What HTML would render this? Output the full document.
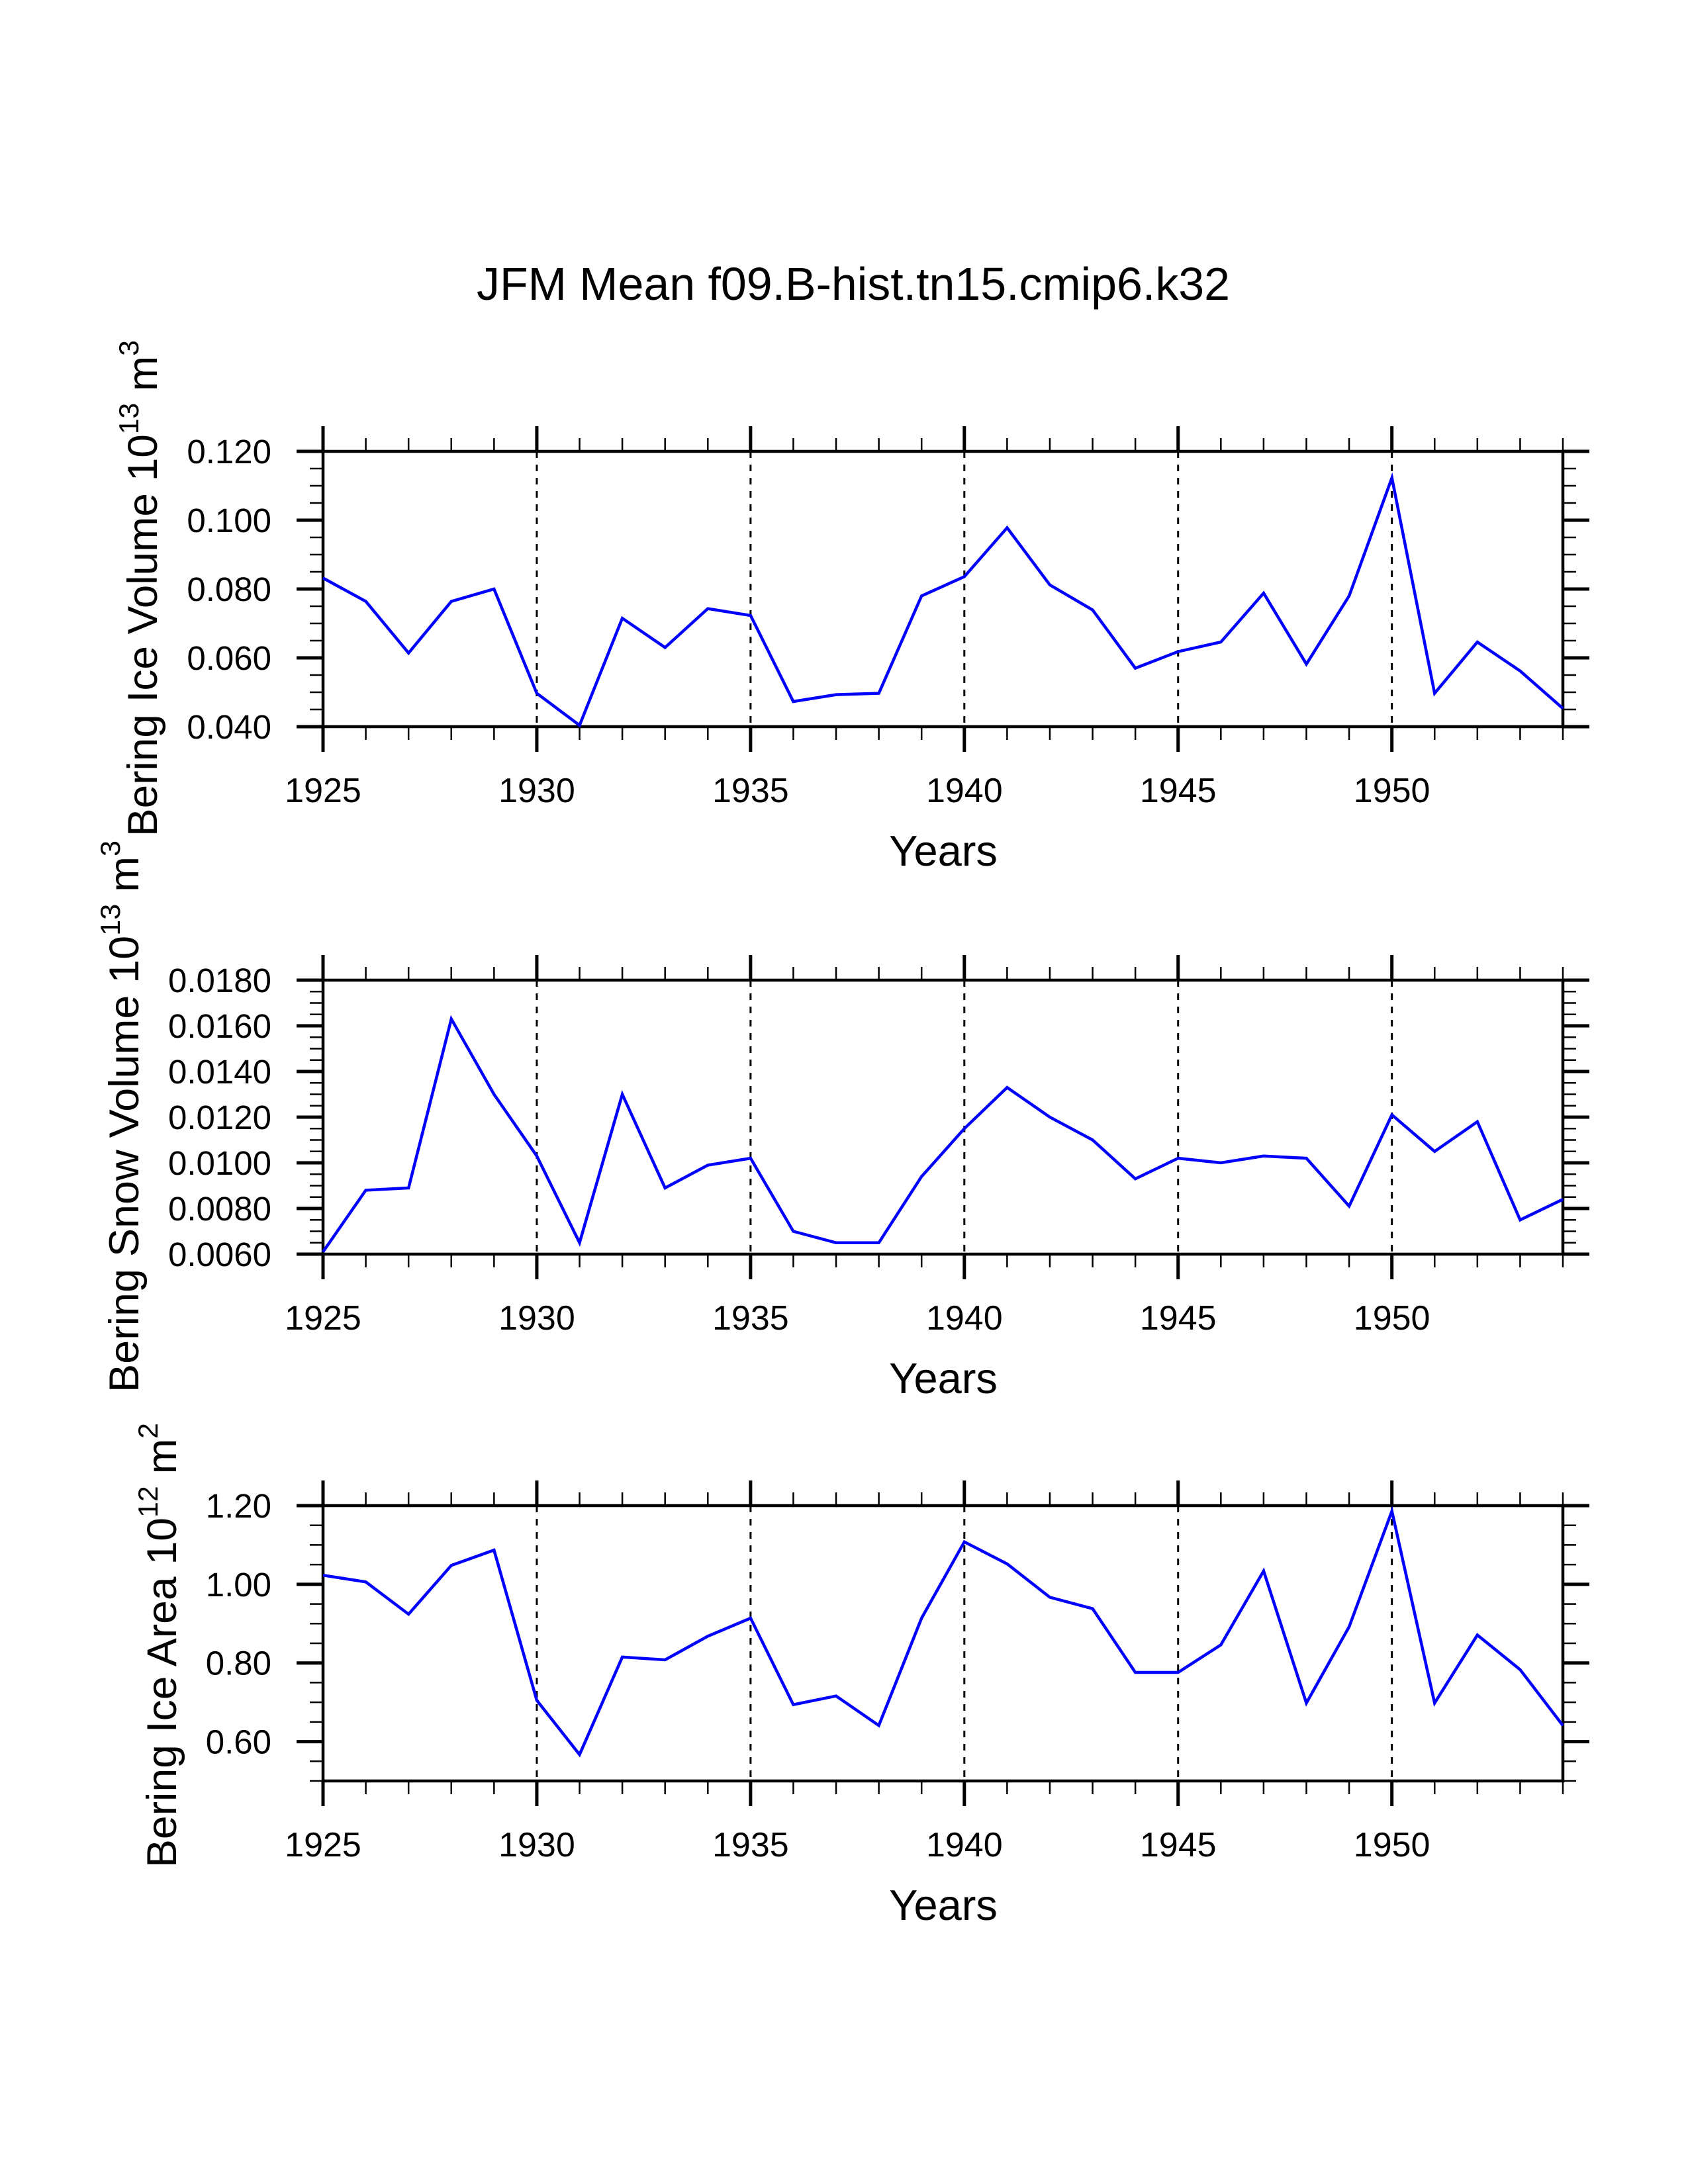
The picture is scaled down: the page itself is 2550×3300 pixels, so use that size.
<!DOCTYPE html>
<html><head><meta charset="utf-8"><style>
html,body{margin:0;padding:0;background:#fff;}
svg{display:block;}
text{font-family:"Liberation Sans",sans-serif;fill:#000;}
</style></head><body>
<svg id="chart" width="2550" height="3300" viewBox="0 0 2550 3300" xmlns="http://www.w3.org/2000/svg">
<rect width="2550" height="3300" fill="#fff"/>
<text x="1289" y="453" font-size="70" text-anchor="middle" textLength="1138" lengthAdjust="spacingAndGlyphs">JFM Mean f09.B-hist.tn15.cmip6.k32</text>
</svg>
<script>
const years = [1925,1926,1927,1928,1929,1930,1931,1932,1933,1934,1935,1936,1937,1938,1939,1940,1941,1942,1943,1944,1945,1946,1947,1948,1949,1950,1951,1952,1953,1954];
const xTickLabels = ["1925","1930","1935","1940","1945","1950"];
const iceVolume = [0.0832,0.0764,0.0614,0.0764,0.0800,0.0497,0.0404,0.0715,0.0630,0.0743,0.0723,0.0473,0.0493,0.0497,0.0780,0.0836,0.0978,0.0812,0.0739,0.0570,0.0618,0.0646,0.0788,0.0582,0.0780,0.1123,0.0497,0.0646,0.0562,0.0453];
const snowVolume = [0.0061,0.0088,0.0089,0.0163,0.0130,0.0103,0.0065,0.0130,0.0089,0.0099,0.0102,0.0070,0.0065,0.0065,0.0094,0.0115,0.0133,0.0120,0.0110,0.0093,0.0102,0.0100,0.0103,0.0102,0.0081,0.0121,0.0105,0.0118,0.0075,0.0084];
const iceArea = [1.023,1.006,0.924,1.048,1.087,0.705,0.567,0.815,0.808,0.868,0.914,0.694,0.716,0.641,0.914,1.108,1.052,0.967,0.938,0.776,0.776,0.846,1.034,0.698,0.892,1.186,0.698,0.871,0.783,0.641];
const iceVolTicks = ["0.040","0.060","0.080","0.100","0.120"];
const snowTicks = ["0.0060","0.0080","0.0100","0.0120","0.0140","0.0160","0.0180"];
const areaTicks = ["0.60","0.80","1.00","1.20"];

const NS = "http://www.w3.org/2000/svg";
const svg = document.getElementById('chart');
const X0 = 488, X1 = 2361;
const xScale = y => X0 + (y - 1925) / (1954 - 1925) * (X1 - X0);

function mk(tag, attrs, parent) {
  const e = document.createElementNS(NS, tag);
  for (const k in attrs) e.setAttribute(k, attrs[k]);
  (parent || svg).appendChild(e);
  return e;
}
function line(g, x1, y1, x2, y2, w, name, dash) {
  const l = mk('line', {x1, y1, x2, y2, stroke: '#000', 'stroke-width': w}, g);
  if (dash) l.setAttribute('stroke-dasharray', dash);
  
  
  return l;
}

function panel(cfg) {
  const g = mk('g', {});
  
  
  const T = cfg.top, B = cfg.bottom;
  const yScale = v => B - (v - cfg.min) / (cfg.max - cfg.min) * (B - T);
  xTickLabels.forEach(l => {
    const yr = +l;
    if (yr === 1925) return;
    line(g, xScale(yr), T, xScale(yr), B, 3, 'x-gridline-' + l, '10 10');
  });
  years.forEach(yr => {
    const x = xScale(yr);
    const major = (yr % 5 === 0);
    const len = major ? 38 : 20, w = major ? 5 : 2.5;
    line(g, x, T, x, T - len, w, 'top-tick');
    line(g, x, B, x, B + len, w, 'x-tick');
  });
  for (let v = cfg.min; v <= cfg.max + 1e-9; v += cfg.minor) {
    const y = yScale(v);
    line(g, X0, y, X0 - 20, y, 2.5, 'y-minor-tick');
    line(g, X1, y, X1 + 20, y, 2.5, 'right-minor-tick');
  }
  cfg.ticks.forEach(t => {
    const y = yScale(parseFloat(t));
    line(g, X0, y, X0 - 40, y, 5, 'y-tick');
    line(g, X1, y, X1 + 40, y, 5, 'right-tick');
    const tx = mk('text', {x: 410, y: y + 18, 'font-size': 51, 'text-anchor': 'end'}, g);
    
    
    tx.textContent = t;
  });
  const fr = mk('rect', {x: X0, y: T, width: X1 - X0, height: B - T, fill: 'none', stroke: '#000', 'stroke-width': 4.5}, g);
  
  
  xTickLabels.forEach(l => {
    const tx = mk('text', {x: xScale(+l), y: B + 114, 'font-size': 52, 'text-anchor': 'middle'}, g);
    
    
    tx.textContent = l;
  });
  const xt = mk('text', {x: 1425, y: B + 210, 'font-size': 65, 'text-anchor': 'middle'}, g);
  
  
  xt.textContent = 'Years';
  const yt = mk('text', {transform: `translate(${cfg.tx},${cfg.tc}) rotate(-90)`, x: 0, y: 0, 'font-size': 63, 'text-anchor': 'middle', textLength: cfg.tlen, lengthAdjust: 'spacingAndGlyphs'}, g);
  
  
  yt.innerHTML = cfg.title + ' 10<tspan dy="-28" font-size="42">' + cfg.exp + '</tspan><tspan dy="28"> m</tspan><tspan dy="-28" font-size="42">' + cfg.pw + '</tspan>';
  const pts = cfg.data.map((v, i) => xScale(years[i]).toFixed(1) + ',' + yScale(v).toFixed(1)).join(' ');
  const pl = mk('polyline', {points: pts, fill: 'none', stroke: '#0000ff', 'stroke-width': 4.5, 'stroke-linejoin': 'miter'}, g);
  
  
}

panel({name: 'ice-volume-panel', top: 682, bottom: 1098, min: 0.040, max: 0.120, minor: 0.005, ticks: iceVolTicks, data: iceVolume, title: 'Bering Ice Volume', exp: '13', pw: '3', tx: 237, tc: 889, tlen: 750});
panel({name: 'snow-volume-panel', top: 1481, bottom: 1895, min: 0.006, max: 0.018, minor: 0.0005, ticks: snowTicks, data: snowVolume, title: 'Bering Snow Volume', exp: '13', pw: '3', tx: 209, tc: 1687, tlen: 834});
panel({name: 'ice-area-panel', top: 2275, bottom: 2691, min: 0.5, max: 1.2, minor: 0.05, ticks: areaTicks, data: iceArea, title: 'Bering Ice Area', exp: '12', pw: '2', tx: 266, tc: 2486, tlen: 672});
</script>
</body></html>
